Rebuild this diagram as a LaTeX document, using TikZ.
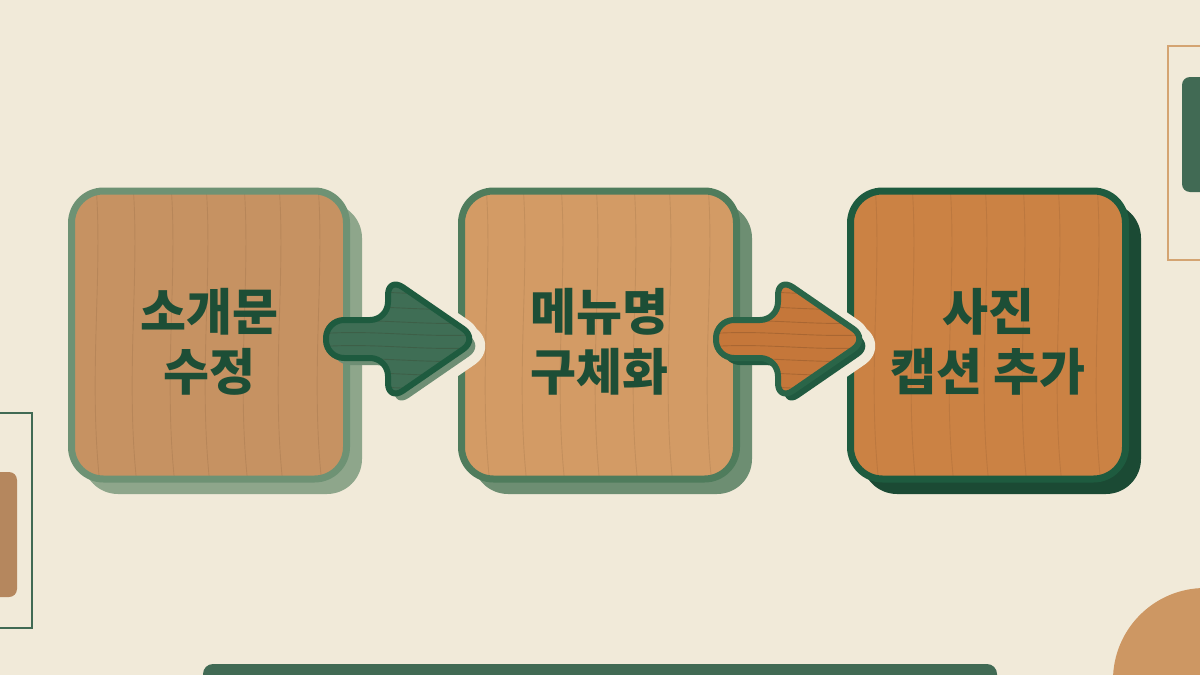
\documentclass[tikz,border=0pt]{standalone}
\usepackage{fontspec}
\newfontfamily\krfont{Noto Sans CJK KR}[BoldFont={Noto Sans CJK KR Black}]
\definecolor{paper}{HTML}{F1EAD9}
\definecolor{ink}{HTML}{1D4E36}
\definecolor{woodA}{HTML}{C69262}
\definecolor{woodB}{HTML}{D39B65}
\definecolor{woodC}{HTML}{CB8244}
\definecolor{rimA}{HTML}{6E9274}
\definecolor{rimB}{HTML}{4F7C5C}
\definecolor{rimC}{HTML}{1E5B3F}
\definecolor{shadeA}{HTML}{8EA68B}
\definecolor{shadeB}{HTML}{6D8E72}
\definecolor{shadeC}{HTML}{1B4A34}
\definecolor{pine}{HTML}{3F6E55}
\definecolor{pineshade}{HTML}{6E8E74}
\definecolor{cedar}{HTML}{C5773A}
\definecolor{cedarrim}{HTML}{2A6548}
\definecolor{cedarshade}{HTML}{215A40}
\definecolor{decogreen}{HTML}{416A54}
\definecolor{decobrown}{HTML}{B5875E}
\definecolor{decoline}{HTML}{D4A472}
\definecolor{decocircle}{HTML}{CD9763}
\tikzset{
  grainline/.style={draw=black!70!brown, opacity=0.10, line width=0.9pt},
  stepbox/.style={rounded corners=32pt, minimum width=275pt, minimum height=288pt,
    line width=7pt, inner sep=0pt},
  steptext/.style={text=ink, align=center, inner sep=0pt,
    font=\krfont\bfseries\fontsize{50}{60}\selectfont},
  arrowshape/.style={rounded corners=18pt,
    insert path={(0,-19) -- (62,-19) -- (62,-62) -- (152,0) -- (62,62) -- (62,19) -- (0,19) -- cycle}},
}
% box: name, x, y, fill, rim, shadow, text
\newcommand{\drawStep}[7]{
  \fill[#6, rounded corners=35pt] ({#2-126},{#3-132}) rectangle ({#2+153},{#3+159});
  \begin{scope}
    \clip[rounded corners=32pt] ({#2-137},{#3-144}) rectangle ({#2+137},{#3+144});
    \fill[#4] ({#2-140},{#3-150}) rectangle ({#2+140},{#3+150});
    \foreach \gx in {-113,-76,-38,-3,35,70,109}
      \draw[grainline] ({#2+\gx},{#3-150}) .. controls ({#2+\gx+7},{#3-60}) and ({#2+\gx-8},{#3+40}) .. ({#2+\gx+4},{#3+150});
  \end{scope}
  \node[stepbox, draw=#5, label={[steptext, yshift=-7pt, name=#1Text]center:#7}] (#1) at (#2,#3) {};
}
% arrow: start coordinate, fill, rim, shadow
\newcommand{\drawArrow}[4]{
  \begin{scope}[shift={(#1)}, line join=round]
    \begin{scope}
      \clip (130,-100) rectangle (200,100);
      \draw[paper, line width=20pt, fill=paper, shift={(6,7)}, arrowshape];
      \draw[paper, line width=20pt, fill=paper, arrowshape];
    \end{scope}
    \fill[#4, shift={(6,7)}, arrowshape];
    \begin{scope}
      \clip[arrowshape];
      \fill[#2] (-10,-70) rectangle (160,70);
      \foreach \gy in {-46,-31,-17,-5,8,21,35,49}
        \draw[grainline, opacity=0.2] (-10,\gy) .. controls (50,{\gy-5}) and (100,{\gy+5}) .. (160,\gy);
    \end{scope}
    \draw[#3, line width=6pt, arrowshape];
  \end{scope}
}

\begin{document}
\begin{tikzpicture}[x=1pt, y=-1pt]
  \useasboundingbox (0,0) rectangle (1200,675);
  \fill[paper] (0,0) rectangle (1200,675);
  \clip (0,0) rectangle (1200,675);
  % Decorations
  \draw[decoline, line width=2pt] (1168,46) rectangle (1220,260);
  \fill[decogreen, rounded corners=8] (1182,77) rectangle (1220,192);
  \draw[decogreen, line width=2.2pt] (-10,413) rectangle (32,628);
  \fill[decobrown, rounded corners=8] (-15,472) rectangle (17,597);
  \fill[decocircle] (1205,680) circle (92);
  \fill[decogreen, rounded corners=10] (203,664) rectangle (997,695);
  % Steps
  \drawStep{s1}{209}{335}{woodA}{rimA}{shadeA}{소개문\\수정}
  \drawStep{s2}{599}{335}{woodB}{rimB}{shadeB}{메뉴명\\구체화}
  \drawStep{s3}{988}{335}{woodC}{rimC}{shadeC}{사진\\캡션 추가}
  % Arrows
  \coordinate (a1) at ([shift={(-24,4)}]s1.east);
  \coordinate (a2) at ([shift={(-24,4)}]s2.east);
  \drawArrow{a1}{pine}{rimC}{pineshade}
  \drawArrow{a2}{cedar}{cedarrim}{cedarshade}
\end{tikzpicture}
\end{document}
